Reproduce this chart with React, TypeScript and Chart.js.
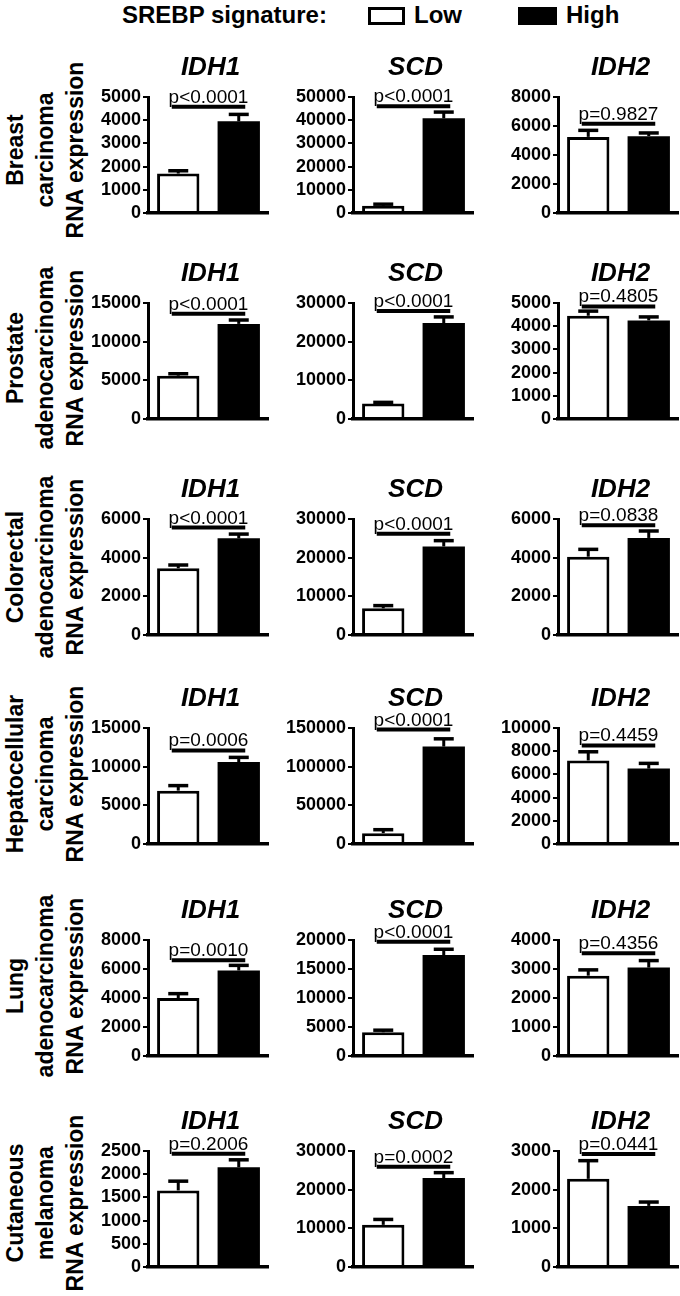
import React, { useEffect, useRef } from "react";
import { Chart, registerables } from "chart.js";

Chart.register(...registerables);

// ---------- data ----------
const groups = ["Low", "High"];
const genes = ["IDH1", "SCD", "IDH2"];
const cancerTypes = [
  ["Breast", "carcinoma"],
  ["Prostate", "adenocarcinoma"],
  ["Colorectal", "adenocarcinoma"],
  ["Hepatocellular", "carcinoma"],
  ["Lung", "adenocarcinoma"],
  ["Cutaneous", "melanoma"],
];
const yAxisLabel = "RNA expression";
const legendTitle = "SREBP signature:";

// rows: cancer types; columns: IDH1, SCD, IDH2
const lowMean = [
  [1700, 3100, 5250],
  [5600, 4000, 4450],
  [3450, 6900, 4050],
  [6900, 14000, 7200],
  [4000, 4100, 2770],
  [1650, 10900, 2280],
];
const lowSem = [
  [120, 700, 450],
  [250, 300, 200],
  [170, 700, 380],
  [650, 4500, 750],
  [300, 350, 200],
  [200, 1400, 470],
];
const highMean = [
  [3950, 40800, 5300],
  [12300, 24800, 4250],
  [5000, 22900, 5020],
  [10600, 126000, 6500],
  [5900, 17400, 3050],
  [2150, 23000, 1580],
];
const highSem = [
  [300, 2700, 220],
  [500, 1600, 150],
  [220, 1500, 360],
  [600, 10000, 450],
  [350, 1000, 240],
  [160, 1400, 100],
];
const bracketLevel = [
  [4580, 46000, 6150],
  [13600, 27900, 4850],
  [5560, 26200, 5680],
  [12100, 148000, 8500],
  [6600, 19700, 3540],
  [2440, 25900, 2920],
];
const pValueLabels = [
  ["p<0.0001", "p<0.0001", "p=0.9827"],
  ["p<0.0001", "p<0.0001", "p=0.4805"],
  ["p<0.0001", "p<0.0001", "p=0.0838"],
  ["p=0.0006", "p<0.0001", "p=0.4459"],
  ["p=0.0010", "p<0.0001", "p=0.4356"],
  ["p=0.2006", "p=0.0002", "p=0.0441"],
];
const yMax = [
  [5000, 50000, 8000],
  [15000, 30000, 5000],
  [6000, 30000, 6000],
  [15000, 150000, 10000],
  [8000, 20000, 4000],
  [2500, 30000, 3000],
];
const yStep = [
  [1000, 10000, 2000],
  [5000, 10000, 1000],
  [2000, 10000, 2000],
  [5000, 50000, 2000],
  [2000, 5000, 1000],
  [500, 10000, 1000],
];

// ---------- layout ----------
const FONT = "'Liberation Sans', Arial, Helvetica, sans-serif";
const COL_AXIS_X = [148, 353, 558];
const ROW_ZERO_Y = [213, 419, 635, 844, 1056, 1267];
const ROW_LABEL_CY = [150, 358, 567, 774, 986, 1203];
const PLOT_W = 121;
const PLOT_H = 116;
const LEFT_W = 80;
const PAD_TOP = 52;
const X_H = 14;
const TITLE_OFFSET = 29;

function Panel({ r, c }: { r: number; c: number }) {
  const ref = useRef<HTMLCanvasElement | null>(null);
  useEffect(() => {
    const canvas = ref.current;
    if (!canvas) return;
    const means = [lowMean[r][c], highMean[r][c]];
    const errs = [lowSem[r][c], highSem[r][c]];
    const annot = {
      id: "annot" + r + c,
      afterDatasetsDraw(chart: any) {
        const { ctx, chartArea } = chart;
        const ys = chart.scales.y;
        const xs = chart.scales.x;
        const meta = chart.getDatasetMeta(0);
        ctx.save();
        ctx.strokeStyle = "#000";
        ctx.fillStyle = "#000";
        ctx.lineCap = "butt";
        meta.data.forEach((bar: any, i: number) => {
          const x = bar.x;
          const y0 = ys.getPixelForValue(means[i]);
          const y1 = ys.getPixelForValue(means[i] + errs[i]);
          ctx.lineWidth = 3;
          ctx.beginPath();
          ctx.moveTo(x, y0);
          ctx.lineTo(x, y1);
          ctx.stroke();
          ctx.lineWidth = 3.5;
          ctx.beginPath();
          ctx.moveTo(x - 10, y1);
          ctx.lineTo(x + 10, y1);
          ctx.stroke();
        });
        // significance bracket
        const yb = ys.getPixelForValue(bracketLevel[r][c]);
        const xa = xs.getPixelForValue(0) - 6.5;
        const xb = xs.getPixelForValue(1) + 6.5;
        ctx.lineWidth = 4;
        ctx.beginPath();
        ctx.moveTo(xa, yb);
        ctx.lineTo(xb, yb);
        ctx.stroke();
        ctx.font = `19px ${FONT}`;
        ctx.textAlign = "center";
        ctx.textBaseline = "alphabetic";
        ctx.fillText(pValueLabels[r][c], (xa + xb) / 2, yb - 4);
        // gene title
        ctx.font = `italic bold 26px ${FONT}`;
        ctx.textBaseline = "middle";
        ctx.fillText(genes[c], (chartArea.left + chartArea.right) / 2 + 2, chartArea.top - TITLE_OFFSET);
        ctx.restore();
      },
    };
    const chart = new Chart(canvas, {
      type: "bar",
      data: {
        labels: groups,
        datasets: [
          {
            data: means,
            backgroundColor: ["#ffffff", "#000000"],
            borderColor: "#000000",
            borderWidth: [3, 0],
            borderSkipped: "start",
            inflateAmount: 0,
            barPercentage: 0.7,
            categoryPercentage: 1,
          },
        ],
      },
      options: {
        responsive: false,
        maintainAspectRatio: false,
        animation: false,
        devicePixelRatio: 1,
        layout: { padding: { top: PAD_TOP, right: 0, left: 0, bottom: 0 } },
        plugins: {
          legend: { display: false },
          tooltip: { enabled: false },
          title: { display: false },
        },
        scales: {
          x: {
            grid: { display: false },
            ticks: { display: false },
            border: { display: true, width: 3.5, color: "#000", z: 1 },
            afterFit: (s: any) => {
              s.height = X_H;
            },
          },
          y: {
            min: 0,
            max: yMax[r][c],
            ticks: {
              stepSize: yStep[r][c],
              autoSkip: false,
              color: "#000",
              padding: 2,
              font: { family: FONT, size: 18, weight: "bold" },
              callback: (v: any) => String(v),
            },
            grid: {
              display: true,
              drawOnChartArea: false,
              drawTicks: true,
              tickLength: 5,
              lineWidth: 2,
              color: "#000",
            },
            border: { display: true, width: 3, color: "#000", z: 1 },
            afterFit: (s: any) => {
              s.width = LEFT_W;
            },
          },
        },
      } as any,
      plugins: [annot],
    });
    return () => chart.destroy();
  }, [r, c]);
  const left = COL_AXIS_X[c] - LEFT_W;
  const top = ROW_ZERO_Y[r] - PLOT_H - PAD_TOP;
  const width = LEFT_W + PLOT_W;
  const height = PAD_TOP + PLOT_H + X_H;
  return (
    <canvas
      ref={ref}
      width={width}
      height={height}
      style={{ position: "absolute", left, top, width, height }}
    />
  );
}

function RowLabel({ r }: { r: number }) {
  const cy = ROW_LABEL_CY[r];
  const cx = 45;
  const w = 260;
  const h = 90;
  return (
    <div
      style={{
        position: "absolute",
        left: cx - w / 2,
        top: cy - h / 2,
        width: w,
        height: h,
        transform: "rotate(-90deg)",
        textAlign: "center",
        fontFamily: FONT,
        fontWeight: "bold",
        fontSize: 23,
        lineHeight: "30px",
        color: "#000",
        whiteSpace: "nowrap",
      }}
    >
      <div>{cancerTypes[r][0]}</div>
      <div>{cancerTypes[r][1]}</div>
      <div>{yAxisLabel}</div>
    </div>
  );
}

function Legend() {
  const txt: React.CSSProperties = {
    position: "absolute",
    top: 3,
    fontFamily: FONT,
    fontWeight: "bold",
    fontSize: 24,
    lineHeight: "24px",
    color: "#000",
    whiteSpace: "nowrap",
  };
  return (
    <>
      <div style={{ ...txt, left: 122 }}>{legendTitle}</div>
      <div
        style={{
          position: "absolute",
          left: 368,
          top: 7,
          width: 37,
          height: 18,
          boxSizing: "border-box",
          border: "3px solid #000",
          background: "#fff",
        }}
      />
      <div style={{ ...txt, left: 414 }}>{groups[0]}</div>
      <div
        style={{
          position: "absolute",
          left: 518,
          top: 7,
          width: 39,
          height: 18,
          background: "#000",
        }}
      />
      <div style={{ ...txt, left: 566 }}>{groups[1]}</div>
    </>
  );
}

export default function App() {
  return (
    <div
      style={{
        position: "absolute",
        left: 0,
        top: 0,
        width: 680,
        height: 1296,
        overflow: "hidden",
        background: "#fff",
      }}
    >
      <Legend />
      {cancerTypes.map((_, r) => (
        <RowLabel key={"l" + r} r={r} />
      ))}
      {cancerTypes.map((_, r) =>
        genes.map((_, c) => <Panel key={r + "-" + c} r={r} c={c} />)
      )}
    </div>
  );
}
